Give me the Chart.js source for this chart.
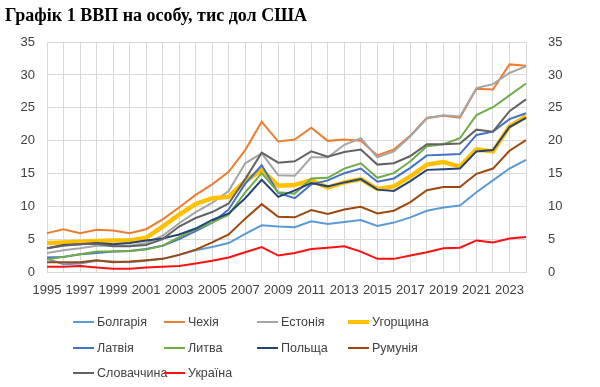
<!DOCTYPE html>
<html>
<head>
<meta charset="utf-8">
<script src="https://cdn.jsdelivr.net/npm/chart.js@4"></script>
<style>
  html, body { margin: 0; padding: 0; background: #fff; }
  #wrap { position: relative; width: 600px; height: 387px; overflow: hidden; }
  #title { position: absolute; left: 5px; top: 5px; font: bold 18px "Liberation Serif", "Times New Roman", serif; color: #000; white-space: nowrap; }
  #chart { position: absolute; left: 0; top: 0; }
  #legend { position: absolute; left: 0; top: 0; width: 600px; height: 387px; pointer-events: none; }
  .item { position: absolute; display: flex; align-items: center; font: 12.5px "Liberation Sans", Arial, sans-serif; color: #404040; white-space: nowrap; transform: translateY(-50%); }
  .item i { display: inline-block; width: 21px; margin-right: 3px; }
</style>
</head>
<body>
<div id="wrap">
  <canvas id="chart" width="600" height="312"></canvas>
  <div id="title">Графік 1 ВВП на особу, тис дол США</div>
  <div id="legend"></div>
</div>
<script>
// years and values, thousand USD per person
const years = ['1995','1996','1997','1998','1999','2000','2001','2002','2003','2004',
  '2005','2006','2007','2008','2009','2010','2011','2012','2013','2014',
  '2015','2016','2017','2018','2019','2020','2021','2022','2023','2024'];

const bulgaria  = [2.1, 1.3, 1.4, 1.8, 1.7, 1.6, 1.8, 2.1, 2.7, 3.4, 3.9, 4.5, 5.9, 7.2, 7.0, 6.9, 7.8, 7.4, 7.7, 8.0, 7.1, 7.6, 8.4, 9.4, 9.9, 10.2, 12.2, 14.0, 15.8, 17.1];
const czechia   = [6.0, 6.6, 6.0, 6.5, 6.4, 6.0, 6.6, 8.1, 9.9, 11.8, 13.4, 15.3, 18.6, 22.9, 19.9, 20.2, 22.0, 20.0, 20.2, 20.0, 17.8, 18.7, 20.8, 23.5, 23.8, 23.5, 27.9, 27.8, 31.6, 31.4];
const estonia   = [3.0, 3.4, 3.7, 4.1, 4.1, 4.1, 4.5, 5.6, 7.5, 9.2, 10.6, 12.4, 16.6, 18.1, 14.8, 14.7, 17.5, 17.5, 19.4, 20.4, 17.5, 18.4, 20.7, 23.4, 23.9, 23.7, 28.0, 28.6, 30.3, 31.3];
const hungary   = [4.5, 4.6, 4.7, 4.8, 4.9, 4.9, 5.3, 7.0, 8.8, 10.4, 11.3, 11.5, 13.9, 15.6, 13.2, 13.3, 14.0, 12.9, 13.7, 14.2, 12.7, 13.1, 14.6, 16.4, 16.8, 16.1, 18.7, 18.4, 22.2, 23.7];
const latvia    = [2.3, 2.4, 2.8, 3.0, 3.2, 3.3, 3.6, 4.1, 5.1, 6.3, 7.6, 9.6, 13.5, 16.3, 12.1, 11.3, 13.4, 14.0, 15.1, 15.8, 13.8, 14.3, 15.9, 17.8, 17.9, 18.0, 20.9, 21.4, 23.3, 24.2];
const lithuania = [2.0, 2.4, 2.8, 3.2, 3.2, 3.3, 3.5, 4.1, 5.4, 6.6, 7.6, 8.8, 12.2, 15.1, 12.2, 12.0, 14.3, 14.4, 15.8, 16.6, 14.4, 15.1, 16.9, 19.2, 19.5, 20.4, 23.9, 25.1, 26.9, 28.7];
const poland    = [3.7, 4.2, 4.3, 4.5, 4.3, 4.5, 4.9, 5.2, 5.8, 6.7, 8.0, 9.0, 11.3, 14.1, 11.5, 12.5, 13.6, 13.1, 13.7, 14.2, 12.6, 12.4, 13.9, 15.6, 15.7, 15.8, 18.4, 18.6, 22.1, 23.5];
const romania   = [1.6, 1.6, 1.6, 1.9, 1.6, 1.7, 1.9, 2.1, 2.7, 3.5, 4.6, 5.8, 8.2, 10.4, 8.5, 8.4, 9.5, 8.9, 9.6, 10.0, 9.0, 9.4, 10.7, 12.5, 13.0, 13.0, 15.0, 15.8, 18.5, 20.1];
const slovakia  = [3.7, 4.1, 4.3, 4.4, 4.0, 4.0, 4.2, 5.1, 7.0, 8.3, 9.2, 10.5, 14.2, 18.2, 16.7, 16.9, 18.4, 17.6, 18.3, 18.7, 16.4, 16.6, 17.7, 19.5, 19.5, 19.6, 21.7, 21.4, 24.5, 26.3];
const ukraine   = [0.9, 0.9, 1.0, 0.8, 0.6, 0.6, 0.8, 0.9, 1.0, 1.4, 1.8, 2.3, 3.1, 3.9, 2.6, 3.0, 3.6, 3.8, 4.0, 3.2, 2.1, 2.1, 2.6, 3.1, 3.7, 3.8, 4.9, 4.6, 5.2, 5.4];

const names = ['Болгарія', 'Чехія', 'Естонія', 'Угорщина', 'Латвія', 'Литва', 'Польща', 'Румунія', 'Словаччина', 'Україна'];
const series = [bulgaria, czechia, estonia, hungary, latvia, lithuania, poland, romania, slovakia, ukraine];
const colors = ['#5B9BD5', '#ED7D31', '#A5A5A5', '#FFC000', '#4472C4', '#70AD47', '#264478', '#9E480E', '#636363', '#FF1010'];

const datasets = series.map((data, i) => ({
  label: names[i],
  data,
  borderColor: colors[i],
  backgroundColor: colors[i],
  borderWidth: i === 3 ? 4.5 : 2,
  pointRadius: 0,
  tension: 0,
  order: series.length - i,
  yAxisID: 'y'
}));

const tickFont = { family: '"Liberation Sans", Arial, sans-serif', size: 13 };
const gridColor = '#d9d9d9';

new Chart(document.getElementById('chart'), {
  type: 'line',
  data: { labels: years, datasets },
  options: {
    responsive: false,
    animation: false,
    layout: { padding: { top: 42, left: 0, right: 0, bottom: 0 } },
    plugins: { legend: { display: false }, tooltip: { enabled: false } },
    scales: {
      x: {
        grid: { color: gridColor, drawTicks: false, offset: false },
        border: { color: gridColor },
        ticks: {
          autoSkip: false, maxRotation: 0, padding: 10, color: '#404040', font: tickFont,
          callback: (v, i) => i % 2 === 0 ? years[i] : ''
        },
        afterFit: (a) => { a.height = 312 - 272.7; }
      },
      y: {
        position: 'left', min: 0, max: 35,
        grid: { color: gridColor, drawTicks: false },
        border: { display: false },
        ticks: { stepSize: 5, padding: 12, color: '#404040', font: tickFont },
        afterFit: (a) => { a.width = 47; }
      },
      y2: {
        position: 'right', min: 0, max: 35,
        grid: { display: false, drawTicks: false },
        border: { display: false },
        ticks: { stepSize: 5, padding: 22, color: '#404040', font: tickFont },
        afterFit: (a) => { a.width = 600 - 526; }
      }
    }
  }
});

// legend laid out in Excel-like columns
const legendCols = [73, 164, 257, 348];
const legendRows = [322, 348, 373];
const legend = document.getElementById('legend');
names.forEach((name, i) => {
  const el = document.createElement('div');
  el.className = 'item';
  el.style.left = legendCols[i % 4] + 'px';
  el.style.top = legendRows[Math.floor(i / 4)] + 'px';
  const h = i === 3 ? 4 : 2;
  el.innerHTML = '<i style="height:' + h + 'px;background:' + colors[i] + '"></i>' + name;
  legend.appendChild(el);
});
</script>
</body>
</html>
